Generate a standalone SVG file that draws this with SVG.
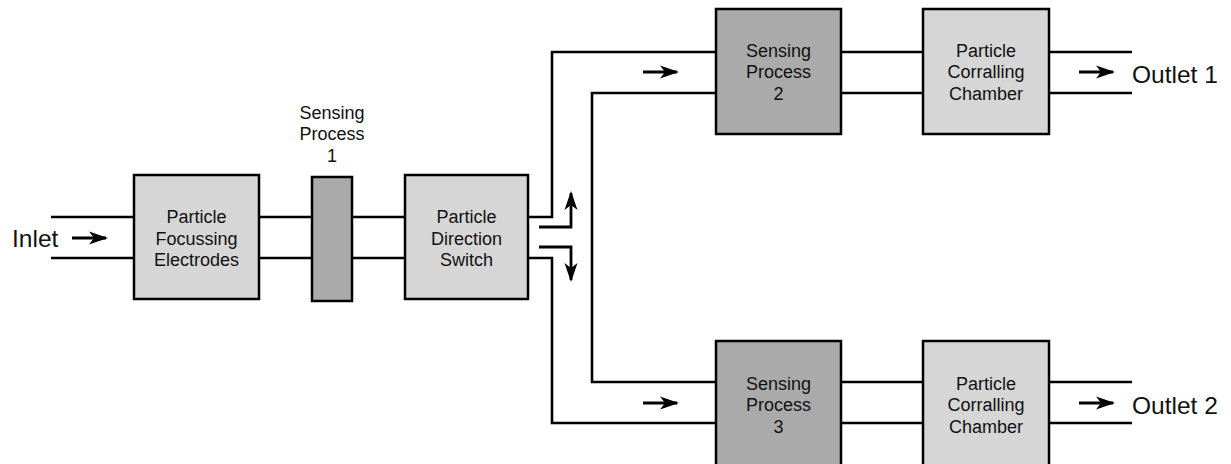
<svg xmlns="http://www.w3.org/2000/svg" width="1231" height="464" viewBox="0 0 1231 464">
<defs>
<marker id="ah" markerUnits="userSpaceOnUse" markerWidth="20" markerHeight="14" viewBox="0 0 20 14" refX="17" refY="7" orient="auto">
<path d="M0,0.5 L19,7 L0,13.5 L5,7 Z" fill="#000"/>
</marker>
<style>
.box{fill:#d6d6d6;stroke:#000;stroke-width:2.5}
.dark{fill:#aaaaaa;stroke:#000;stroke-width:2.5}
.ln{fill:none;stroke:#000;stroke-width:2.6}
.ar{fill:none;stroke:#000;stroke-width:2.8;marker-end:url(#ah)}
text{font-family:"Liberation Sans",Arial,Helvetica,sans-serif;fill:#111}
.lbl{font-size:18px;text-anchor:middle}
.big{font-size:24.5px}
</style>
</defs>
<rect width="1231" height="464" fill="#fff"/>
<g id="connectors">
<path class="ln" d="M51,217H134M51,258H134"/>
<path class="ln" d="M259,217H312M259,258H312"/>
<path class="ln" d="M352,217H405M352,258H405"/>
<path class="ln" d="M528,217H552V52H716"/>
<path class="ln" d="M716,93H592V382H716"/>
<path class="ln" d="M528,258H552V423H716"/>
<path class="ln" d="M841,52H923M841,93H923M841,382H923M841,423H923"/>
<path class="ln" d="M1049,52H1132M1049,93H1132M1049,382H1132M1049,423H1132"/>
<path class="ar" d="M72,238H106"/>
<path class="ar" d="M643,72H677"/>
<path class="ar" d="M643,403H677"/>
<path class="ar" d="M1079,72H1113"/>
<path class="ar" d="M1079,403H1113"/>
<path class="ar" d="M539,227H571V193"/>
<path class="ar" d="M539,247H571V280"/>
</g>
<g id="inlet"><text class="big" x="12" y="247">Inlet</text></g>
<g id="focussing">
<rect class="box" x="134" y="175" width="125" height="124"/>
<text class="lbl" x="196.5" y="223">Particle</text>
<text class="lbl" x="196.5" y="244.5">Focussing</text>
<text class="lbl" x="196.5" y="266">Electrodes</text>
</g>
<g id="sensing1">
<rect class="dark" x="312" y="177" width="40" height="124"/>
<text class="lbl" x="332" y="119">Sensing</text>
<text class="lbl" x="332" y="140">Process</text>
<text class="lbl" x="332" y="162">1</text>
</g>
<g id="switch">
<rect class="box" x="405" y="175" width="123" height="124"/>
<text class="lbl" x="466.5" y="223">Particle</text>
<text class="lbl" x="466.5" y="244.5">Direction</text>
<text class="lbl" x="466.5" y="266">Switch</text>
</g>
<g id="sensing2">
<rect class="dark" x="716" y="9" width="125" height="125"/>
<text class="lbl" x="778.5" y="56.5">Sensing</text>
<text class="lbl" x="778.5" y="78">Process</text>
<text class="lbl" x="778.5" y="99.5">2</text>
</g>
<g id="corral1">
<rect class="box" x="923" y="9" width="126" height="125"/>
<text class="lbl" x="986" y="56.5">Particle</text>
<text class="lbl" x="986" y="78">Corralling</text>
<text class="lbl" x="986" y="99.5">Chamber</text>
</g>
<g id="outlet1"><text class="big" x="1132" y="83">Outlet 1</text></g>
<g id="sensing3">
<rect class="dark" x="716" y="341" width="125" height="126"/>
<text class="lbl" x="778.5" y="389.5">Sensing</text>
<text class="lbl" x="778.5" y="411">Process</text>
<text class="lbl" x="778.5" y="432.5">3</text>
</g>
<g id="corral2">
<rect class="box" x="923" y="341" width="126" height="126"/>
<text class="lbl" x="986" y="389.5">Particle</text>
<text class="lbl" x="986" y="411">Corralling</text>
<text class="lbl" x="986" y="432.5">Chamber</text>
</g>
<g id="outlet2"><text class="big" x="1132" y="414">Outlet 2</text></g>
</svg>
